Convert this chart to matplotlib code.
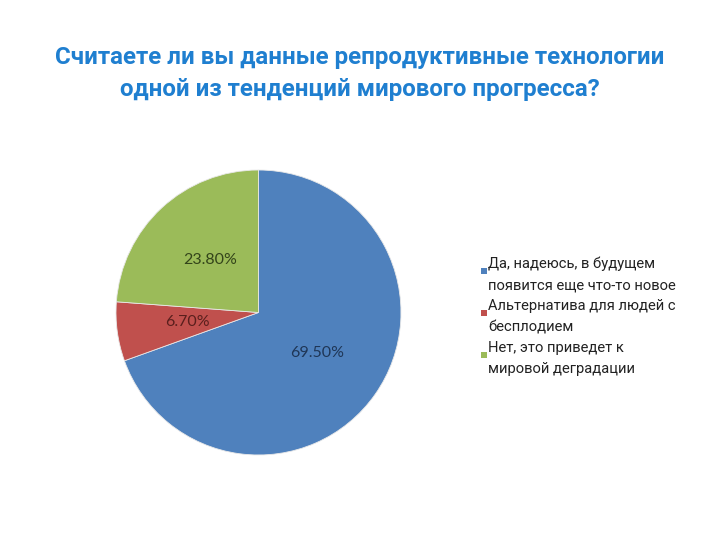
import matplotlib
matplotlib.use("Agg")
import matplotlib.pyplot as plt
from matplotlib.patches import Rectangle

title = "Считаете ли вы данные репродуктивные технологии\nодной из тенденций мирового прогресса?"
labels = ["Да, надеюсь, в будущем\nпоявится еще что-то новое",
          "Альтернатива для людей с\nбесплодием",
          "Нет, это приведет к\nмировой деградации"]
values = [69.5, 6.7, 23.8]
colors = ["#4f81bd", "#c0504d", "#9bbb59"]
pct_colors = ["#1f3656", "#5a1f1d", "#33441a"]

fig = plt.figure(figsize=(7.2, 5.4), dpi=100)
fig.patch.set_facecolor("white")

fig.text(0.5, 1 - 73.5 / 540, title, ha="center", va="center", fontsize=17.4,
         fontweight="bold", color="#1f7fd0", linespacing=1.45,
         family=["Roboto", "DejaVu Sans"])

ax = fig.add_axes([0.1611, 0.1574, 0.3958, 0.5278])
wedges, texts, autotexts = ax.pie(values, colors=colors, startangle=90,
                                  counterclock=False, autopct="%.2f%%",
                                  pctdistance=0.5,
                                  wedgeprops=dict(edgecolor="#e8e8e8", linewidth=0.6),
                                  textprops=dict(fontsize=11.5, family="Lato"))
for t, c in zip(autotexts, pct_colors):
    t.set_color(c)
ax.set_xlim(-1, 1)
ax.set_ylim(-1, 1)
ax.set_aspect("equal")

# legend drawn by hand: square next to baseline of the first line
base = 268
step = 21
n = 0
for lab, c in zip(labels, colors):
    lines = lab.split("\n")
    yfirst = base + n * step
    for ln in lines:
        y = base + n * step
        fig.text(488 / 720, 1 - y / 540, ln, ha="left", va="baseline",
                 fontsize=10.6, color="#222222",
                 family=["Roboto", "DejaVu Sans"])
        n += 1
    fig.patches.append(Rectangle((481 / 720, 1 - (yfirst + 6) / 540), 6 / 720, 6 / 540,
                                 transform=fig.transFigure, facecolor=c,
                                 edgecolor="none"))

fig.savefig("out.png", dpi=100)
